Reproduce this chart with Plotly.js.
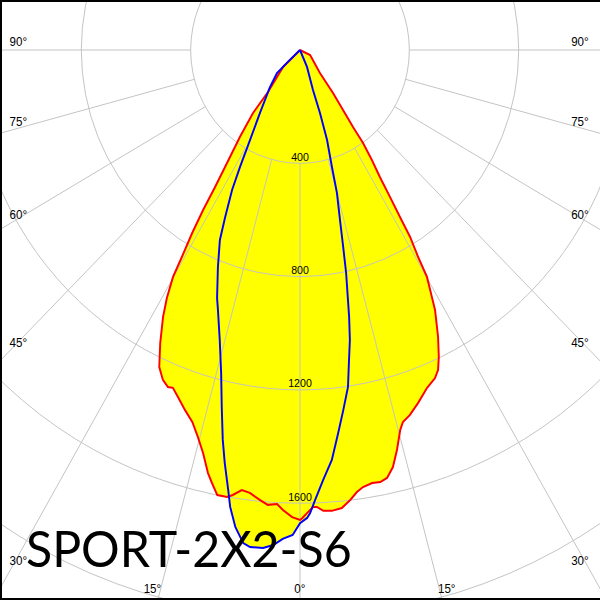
<!DOCTYPE html>
<html>
<head>
<meta charset="utf-8">
<script src="https://cdn.plot.ly/plotly-3.0.1.min.js"></script>
<style>
html,body{margin:0;padding:0;background:#fff;}
#wrap{position:relative;width:600px;height:600px;overflow:hidden;background:#fff;}
#plot{position:absolute;left:-400px;top:-650px;width:1400px;height:1400px;transform:scaleX(0.965);transform-origin:700px 0;}
#frame{position:absolute;left:0;top:0;width:600px;height:600px;box-sizing:border-box;border-left:2px solid #000;border-top:2px solid #000;border-bottom:2px solid #000;pointer-events:none;}
</style>
</head>
<body>
<div id="wrap"><div id="plot"></div><div id="frame"></div></div>
<script>
// C0-C180 plane (red), angle in degrees (0 = downward), intensity in cd
const redTheta = [-90, -46, -38.3, -37.7, -35.6, -33.8, -32.7, -32.1, -31.4, -30.6, -30.1, -29.1, -28.0, -26.3, -24.7, -23.3, -22.1, -21.3, -20.0, -18.3, -16.7, -15.3, -14.0, -12.7, -11.9, -10.9, -9.6, -8.9, -7.8, -6.7, -5.3, -4.2, -3.0, -2.2, -1.0,
  0,
  0.3, 0.9, 1.7, 2.2, 3.0, 4.1, 5.4, 6.6, 7.6, 8.5, 9.8, 10.9, 11.9, 13.0, 14.1, 15.3, 16.0, 17.3, 19.1, 21.3, 23.1, 24.1, 25.1, 26.5, 28.3, 28.9, 30.1, 30.6, 31.4, 31.8, 32.4, 33.1, 34.1, 35.1, 35.5, 36.6, 38.5, 42.0, 64.3, 90];
const redR = [0, 86, 189, 281, 377, 480, 575, 667, 757, 849, 926, 1001, 1067, 1154, 1232, 1268, 1284, 1280, 1304, 1339, 1371, 1416, 1466, 1531, 1562, 1600, 1600, 1590, 1568, 1574, 1595, 1610, 1605, 1625, 1649,
  1659,
  1652, 1635, 1614, 1614, 1629, 1631, 1624, 1599, 1574, 1560, 1551, 1553, 1544, 1511, 1456, 1390, 1366, 1350, 1319, 1280, 1259, 1237, 1197, 1132, 1042, 1000, 926, 849, 773, 694, 615, 535, 469, 401, 334, 264, 194, 109, 41, 0];

// C90-C270 plane (blue)
const blueTheta = [-90, -46.5, -46, -40, -33.4, -29.9, -28.0, -26.7, -24.9, -23.6, -21.4, -19.1, -18.1, -16.0, -14.2, -12.8, -11.6, -10.7, -9.6, -9.0, -8.0, -6.8, -5.95, -4.4, -3.2, -2.1, -0.9,
  0,
  0.9, 1.3, 2.0, 3.2, 4.6, 5.9, 7.1, 8.4, 9.2, 10.1, 10.8, 11.3, 12.1, 12.8, 13.7, 15.0, 15.8, 17.3, 18.2, 18.6, 23.2, 90];
const blueR = [0, 66, 117, 171, 266, 367, 468, 553, 650, 732, 823, 927, 966, 1065, 1176, 1292, 1405, 1483, 1575, 1633, 1700, 1753, 1764, 1763, 1750, 1727, 1712,
  1670,
  1652, 1635, 1589, 1520, 1452, 1359, 1281, 1202, 1119, 1040, 959, 893, 805, 713, 618, 522, 429, 333, 234, 149, 65, 0];

const ringValues = [400, 800, 1200, 1600, 2000, 2400];
const ringLabelValues = [400, 800, 1200, 1600];
const ringLabels = ['400', '800', '1200', '1600'];
const spokeAngles = [0, 15, 30, 45, 60, 75, 90, 270, 285, 300, 315, 330, 345];
const angleLabels = ['90°', '75°', '60°', '45°', '30°', '15°', '0°'];
const chartTitle = 'SPORT-2X2-S6';

const RMAX = 2471;
const GRID = '#c3c3c3';

// page pixel -> paper coords of the enlarged figure
const SX = 0.965, W = 1400, H = 1400, OX = 400, OY = 650;
function px(x){ return (700 + (x - 300) / SX) / W; }
function py(y){ return 1 - (y + OY) / H; }

const angCommon = {rotation: 270, direction: 'counterclockwise', showline: false, showticklabels: false, ticks: ''};
const dom = {x: [0, 1], y: [0, 1]};

const traces = [
  {type: 'scatterpolar', subplot: 'polar', theta: redTheta, r: redR, mode: 'lines', fill: 'toself',
   fillcolor: '#ffff00', line: {width: 0, color: '#ffff00'}, hoverinfo: 'skip'},
  {type: 'scatterpolar', subplot: 'polar', theta: blueTheta, r: blueR, mode: 'lines', fill: 'toself',
   fillcolor: '#ffff00', line: {width: 0, color: '#ffff00'}, hoverinfo: 'skip'},
  {type: 'scatterpolar', subplot: 'polar2', theta: [0], r: [RMAX], mode: 'markers',
   marker: {size: 1, opacity: 0}, hoverinfo: 'skip'},
  {type: 'scatterpolar', subplot: 'polar3', theta: redTheta, r: redR, mode: 'lines',
   line: {color: '#ff0000', width: 2}, hoverinfo: 'skip'},
  {type: 'scatterpolar', subplot: 'polar3', theta: blueTheta, r: blueR, mode: 'lines',
   line: {color: '#0000ff', width: 2}, hoverinfo: 'skip'},
  {type: 'scatterpolar', subplot: 'polar3', theta: ringLabelValues.map(() => 0), r: ringLabelValues,
   mode: 'text', text: ringLabels, textposition: 'top center',
   textfont: {family: 'Liberation Sans, Arial, sans-serif', size: 11, color: '#000'}, hoverinfo: 'skip'}
];

const annotations = [];
function lab(text, x, y){
  annotations.push({text: text, xref: 'paper', yref: 'paper', x: px(x), y: py(y), xanchor: 'center', yanchor: 'middle',
    showarrow: false, font: {family: 'Liberation Sans, Arial, sans-serif', size: 12, color: '#000'}});
}
const sideY = [41.5, 121.5, 215, 342.5, 560.5];
for (let i = 0; i < 5; i++) { lab(angleLabels[i], 18, sideY[i]); lab(angleLabels[i], 580, sideY[i]); }
lab(angleLabels[5], 152, 588.5);
lab(angleLabels[5], 447, 588.5);
lab(angleLabels[6], 300, 588.5);
annotations.push({text: chartTitle, xref: 'paper', yref: 'paper', x: px(24), y: py(548), xanchor: 'left', yanchor: 'middle',
  showarrow: false, font: {family: 'Lato, sans-serif', size: 50, color: '#000', weight: 400}});

const layout = {
  width: W, height: H, margin: {l: 0, r: 0, t: 0, b: 0, pad: 0},
  paper_bgcolor: '#fff', showlegend: false,
  polar: {domain: dom, bgcolor: '#fff',
    radialaxis: {range: [0, RMAX], showgrid: false, showline: false, showticklabels: false, ticks: ''},
    angularaxis: Object.assign({showgrid: false}, angCommon)},
  polar2: {domain: dom, bgcolor: 'rgba(0,0,0,0)', hole: 400 / RMAX,
    radialaxis: {range: [400, RMAX], showgrid: false, showline: false, showticklabels: false, ticks: ''},
    angularaxis: Object.assign({showgrid: true, gridcolor: GRID, gridwidth: 1, tickmode: 'array', tickvals: spokeAngles}, angCommon)},
  polar3: {domain: dom, bgcolor: 'rgba(0,0,0,0)',
    radialaxis: {range: [0, RMAX], showgrid: true, gridcolor: GRID, gridwidth: 1, tickmode: 'array', tickvals: ringValues,
      showline: false, showticklabels: false, ticks: ''},
    angularaxis: Object.assign({showgrid: false}, angCommon)},
  annotations: annotations
};

Plotly.newPlot('plot', traces, layout, {staticPlot: true, displayModeBar: false});
</script>
</body>
</html>
